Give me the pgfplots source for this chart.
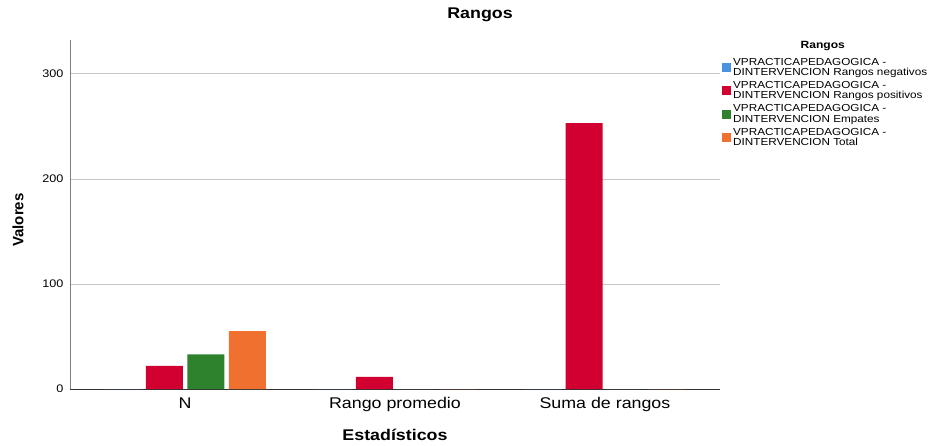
\documentclass[border=0pt]{standalone}
\usepackage{fontspec}
\setmainfont{Liberation Sans}[FakeStretch=1.15]
\newfontfamily\plainsans{Liberation Sans}
\usepackage{pgfplots}
\pgfplotsset{compat=1.18}
\definecolor{cneg}{RGB}{74,146,226}
\definecolor{cpos}{RGB}{210,0,48}
\definecolor{cemp}{RGB}{46,130,46}
\definecolor{ctot}{RGB}{240,112,48}
\pgfplotsset{sqleg/.style={legend image code/.code={\fill[##1] (0pt,-4.5pt) rectangle (9pt,4.5pt);}}}

\begin{document}
\begin{tikzpicture}
\useasboundingbox (-70pt,-56pt) rectangle (860pt,389pt);
\begin{axis}[
    at={(0pt,0pt)}, anchor=south west,
    scale only axis,
    width=650pt, height=349pt,
    ybar=4.5pt, bar width=37pt,
    xmin=-0.548, xmax=2.548,
    ymin=0, ymax=332,
    xtick={0,1,2},
    xticklabels={N, Rango promedio, Suma de rangos},
    ytick={0,100,200,300},
    major tick length=0pt,
    axis x line*=bottom, axis y line*=left,
    x axis line style={black!80},
    y axis line style={gray},
    ymajorgrids, grid style={gray!45},
    /pgf/number format/assume math mode=true,
    xticklabel style={font=\fontsize{15.5}{18}\selectfont, yshift=-5pt},
    yticklabel style={font=\fontsize{11}{13}\selectfont, xshift=-3pt},
    clip=false,
    legend style={at={(rel axis cs:1.003,0.955)}, anchor=north west,
        draw=none, fill=none, inner sep=0pt,
        font=\fontsize{10.2}{10.5}\selectfont,
        cells={align=left, anchor=west}, row sep=0.3pt,
        /tikz/every even column/.append style={column sep=2pt}},
]
\addplot[fill=cneg, draw=none, sqleg] coordinates {(0,0) (1,0) (2,0)};
\addplot[fill=cpos, draw=none, sqleg] coordinates {(0,22) (1,11.5) (2,253)};
\addplot[fill=cemp, draw=none, sqleg] coordinates {(0,33) (1,0) (2,0)};
\addplot[fill=ctot, draw=none, sqleg] coordinates {(0,55) (1,0) (2,0)};
\legend{{VPRACTICAPEDAGOGICA -\\DINTERVENCION Rangos negativos},
        {VPRACTICAPEDAGOGICA -\\DINTERVENCION Rangos positivos},
        {VPRACTICAPEDAGOGICA -\\DINTERVENCION Empates},
        {VPRACTICAPEDAGOGICA -\\DINTERVENCION Total}}
\node[font=\fontsize{15.5}{18}\selectfont\bfseries] at (rel axis cs:0.6308,1.0716) {Rangos};
\node[font=\fontsize{15.5}{18}\selectfont\bfseries] at (rel axis cs:0.5,-0.132) {Estadísticos};
\node[font=\plainsans\fontsize{15}{18}\selectfont\bfseries, rotate=90] at (rel axis cs:-0.08,0.484) {Valores};
\node[font=\fontsize{10.5}{12}\selectfont\bfseries] at (rel axis cs:1.158,0.983) {Rangos};
\end{axis}
\end{tikzpicture}
\end{document}
